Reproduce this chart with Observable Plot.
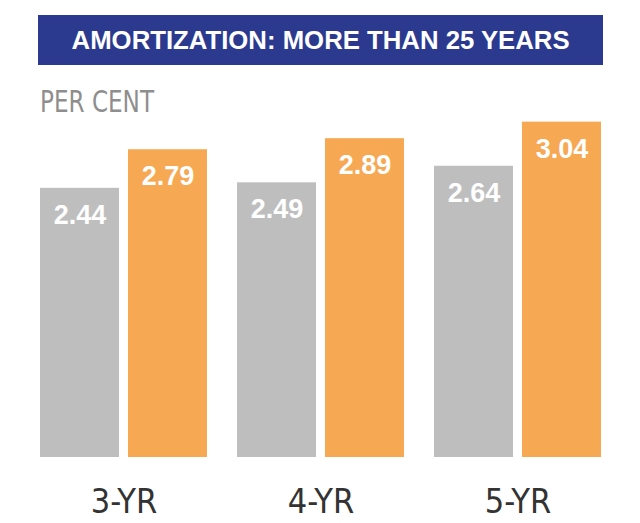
<!DOCTYPE html>
<html>
<head>
<meta charset="utf-8">
<script src="https://cdn.jsdelivr.net/npm/d3@7"></script>
<script src="https://cdn.jsdelivr.net/npm/@observablehq/plot@0.6"></script>
<style>
  html, body { margin: 0; padding: 0; background: #fff; }
  #wrap { position: relative; width: 640px; height: 523px; overflow: hidden; }
  #chart { position: absolute; left: 0; top: 0; }
  #banner { position: absolute; left: 38px; top: 15px; width: 565px; height: 50px; background: #2b3a8e;
            display: flex; align-items: center; justify-content: center; }
  #title { font-family: "Liberation Sans", Arial, sans-serif; font-size: 26px; line-height: 1; color: #fff;
           white-space: nowrap; transform-origin: center center; }
  #title b { font-weight: 700; }
  #title span { font-weight: 700; }
  #unit { position: absolute; left: 40px; top: 87px; font-family: "Liberation Sans Narrow", "DejaVu Sans Condensed", sans-serif;
          font-size: 30px; line-height: 1; color: #8e8e8e; white-space: nowrap; transform-origin: left center; }
</style>
</head>
<body>
<div id="wrap">
  <div id="chart"></div>
  <div id="banner"><div id="title"><b>AMORTIZATION:</b> <span>MORE THAN 25 YEARS</span></div></div>
  <div id="unit">PER CENT</div>
</div>
<script>
const categories = ["3-YR", "4-YR", "5-YR"];
const seriesNames = ["A", "B"];
const grayValues = [2.44, 2.49, 2.64];
const orangeValues = [2.79, 2.89, 3.04];
const seriesColors = ["#bebebe", "#f7a853"];

const data = categories.flatMap((c, i) => [
  {term: c, series: seriesNames[0], value: grayValues[i]},
  {term: c, series: seriesNames[1], value: orangeValues[i]}
]);

const narrow = "'Liberation Sans Narrow', 'DejaVu Sans Condensed', sans-serif";

const chart = Plot.plot({
  width: 640,
  height: 523,
  marginTop: 104,
  marginBottom: 66,
  marginLeft: 38,
  marginRight: 38,
  fx: {domain: categories, paddingInner: 0.144, paddingOuter: 0, label: null},
  x: {domain: seriesNames, paddingInner: 0.101, paddingOuter: 0, axis: null},
  y: {domain: [0, 3.2], axis: null},
  color: {domain: seriesNames, range: seriesColors},
  marks: [
    Plot.barY(data, {fx: "term", x: "series", y: "value", fill: "series"}),
    Plot.text(data, {fx: "term", x: "series", y: "value", text: d => d.value.toFixed(2), dy: 27,
      fill: "white", fontSize: 27, fontWeight: "bold", fontFamily: "'Liberation Sans', Arial, sans-serif",
      ariaLabel: "value-labels"}),
    Plot.axisFx({anchor: "bottom", tickSize: 0, tickPadding: 31, fontSize: 34, fontFamily: narrow,
      fill: "#333", label: null})
  ]
});
document.getElementById("chart").appendChild(chart);

d3.select(chart).selectAll("g[aria-label='value-labels'] text")
  .style("filter", "drop-shadow(1px 1.5px 1.5px rgba(0,0,0,0.35))");

function fitWidth(el, target) {
  const w = el.getBoundingClientRect().width;
  if (w > 0) el.style.transform = `scaleX(${target / w})`;
}
fitWidth(document.getElementById("title"), 498);
fitWidth(document.getElementById("unit"), 114);
</script>
</body>
</html>
